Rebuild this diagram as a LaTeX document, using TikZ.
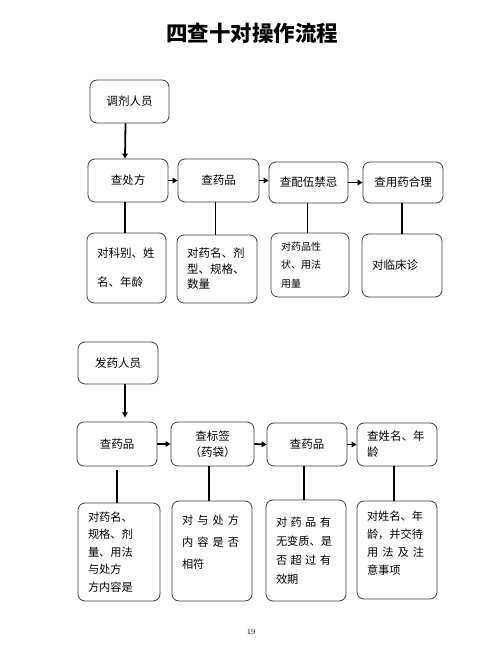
\documentclass[tikz,border=0pt]{standalone}
\usepackage{fontspec}
\newfontfamily\cjk{Noto Sans CJK SC}
\usetikzlibrary{arrows.meta,calc}
\newcommand\sprline[2][56pt]{\makebox[#1][s]{#2}}
\begin{document}
\begin{tikzpicture}[x=1pt,y=-1pt,
  box/.style={draw=black!75, line width=0.8pt, rounded corners=7pt, inner sep=0pt,
    font=\cjk\fontsize{11.5}{16}\selectfont, align=center},
  tbox/.style={draw=black!75, line width=0.8pt, rounded corners=7pt, inner xsep=10pt,
    inner ysep=0pt, align=left},
  arr/.style={line width=1.8pt, -{Triangle[length=5pt,width=5.5pt]}},
  lnk/.style={line width=1.8pt}]
\useasboundingbox (0,0) rectangle (500,647);
\fill[white] (0,0) rectangle (500,647);

\node (title) at (252,33) {\cjk\bfseries\fontsize{21.5}{24}\selectfont 四查十对操作流程};

% ---- section 1
\node[box, minimum width=79pt, minimum height=43pt] (A0) at (129.5,101.5) {调剂人员};
\node[box, minimum width=80pt, minimum height=43pt] (A1) at (128,180.5) {查处方};
\node[box, minimum width=81pt, minimum height=43pt] (A2) at (218.5,180.5) {查药品};
\node[box, minimum width=79pt, minimum height=41pt] (A3) at (308.5,182.5) {查配伍禁忌};
\node[box, minimum width=80pt, minimum height=41pt] (A4) at (403,182.5) {查用药合理};

\node[tbox, text width=59pt, minimum height=70pt, font=\cjk\fontsize{11.5}{29}\selectfont] (B1) at (126.5,268)
  {对科别、姓\\名、年龄};
\node[tbox, text width=60pt, minimum height=68pt, font=\cjk\fontsize{11.5}{15.5}\selectfont] (B2) at (217,269)
  {对药名、剂\\型、规格、\\数量};
\node[tbox, text width=58pt, minimum height=64pt, font=\cjk\fontsize{10}{18.5}\selectfont] (B3) at (310,265)
  {对药品性\\状、用法\\用量};
\node[tbox, text width=60pt, minimum height=63pt, font=\cjk\fontsize{11.5}{16}\selectfont] (B4) at (402,265.5)
  {对临床诊};

\draw[arr] ($(A0.south)+(-4,0)$) -- ($(A1.north)+(-3,0)$);
\draw[arr] (A1.east) -- (A2.west);
\draw[arr] (A2.east) -- (A2.east -| A3.west);
\draw[arr] (A3.east) -- (A4.west);
\draw[lnk] ($(A1.south)+(-3,0)$) -- ($(A1.south |- B1.north)+(-3,0)$);
\draw[lnk] ($(A2.south)+(-3,0)$) -- ($(A2.south |- B2.north)+(-3,0)$);
\draw[lnk] ($(A3.south)+(-1,0)$) -- ($(A3.south |- B3.north)+(-1,0)$);
\draw[lnk] ($(A4.south)+(-1,0)$) -- ($(A4.south |- B4.north)+(-1,0)$);

% ---- section 2
\node[box, minimum width=80pt, minimum height=42pt] (C0) at (118,363) {发药人员};
\node[box, minimum width=80pt, minimum height=44pt] (D1) at (117,444) {查药品};
\node[box, minimum width=83pt, minimum height=44pt] (D2) at (212.5,444) {查标签\\（药袋）};
\node[box, minimum width=80pt, minimum height=43pt] (D3) at (307,444.5) {查药品};
\node[tbox, text width=60pt, minimum height=43pt, font=\cjk\fontsize{11.5}{16}\selectfont] (D4) at (397,444.5)
  {查姓名、年\\龄};

\node[tbox, text width=62pt, minimum height=98pt, font=\cjk\fontsize{11.2}{17.5}\selectfont] (E1) at (119,552)
  {对药名、\\规格、剂\\量、用法\\与处方\\方内容是};
\node[tbox, text width=60pt, minimum height=100pt, font=\cjk\fontsize{11.2}{22}\selectfont] (E2) at (212,551)
  {\sprline[57pt]{对\hfill 与\hfill 处\hfill 方}\\\sprline[57pt]{内\hfill 容\hfill 是\hfill 否}\\相符\\[-4pt]\mbox{}};
\node[tbox, text width=60pt, minimum height=101pt, font=\cjk\fontsize{11.2}{19}\selectfont] (E3) at (306,550.5)
  {\sprline[55pt]{对\hfill 药\hfill 品\hfill 有}\\无变质、是\\\sprline[55pt]{否\hfill 超\hfill 过\hfill 有}\\效期};
\node[tbox, text width=60pt, minimum height=98pt, font=\cjk\fontsize{11.2}{18}\selectfont] (E4) at (397,550)
  {对姓名、年\\龄，并交待\\\sprline[57pt]{用\hfill 法\hfill 及\hfill 注}\\意事项\\[-4pt]\mbox{}};

\draw[arr] ($(C0.south)+(7,0)$) -- ($(C0.south)+(7,33)$);
\draw[arr] (D1.east) -- (D2.west);
\draw[arr] (D2.east) -- (D3.west);
\draw[arr] (D3.east) -- (D4.west);
\draw[lnk] ($(D1.south)+(0,4)$) -- (D1.south |- E1.north);
\draw[lnk] ($(D2.south)+(-3.5,0)$) -- ($(D2.south |- E2.north)+(-3.5,0)$);
\draw[lnk] ($(D3.south)+(-3,0)$) -- ($(D3.south |- E3.north)+(-3,0)$);
\draw[lnk] ($(D4.south)+(-3,0)$) -- ($(D4.south |- E4.north)+(-3,0)$);

\node[font=\fontsize{8}{9}\selectfont] (pg) at (251,632) {19};
\end{tikzpicture}
\end{document}
